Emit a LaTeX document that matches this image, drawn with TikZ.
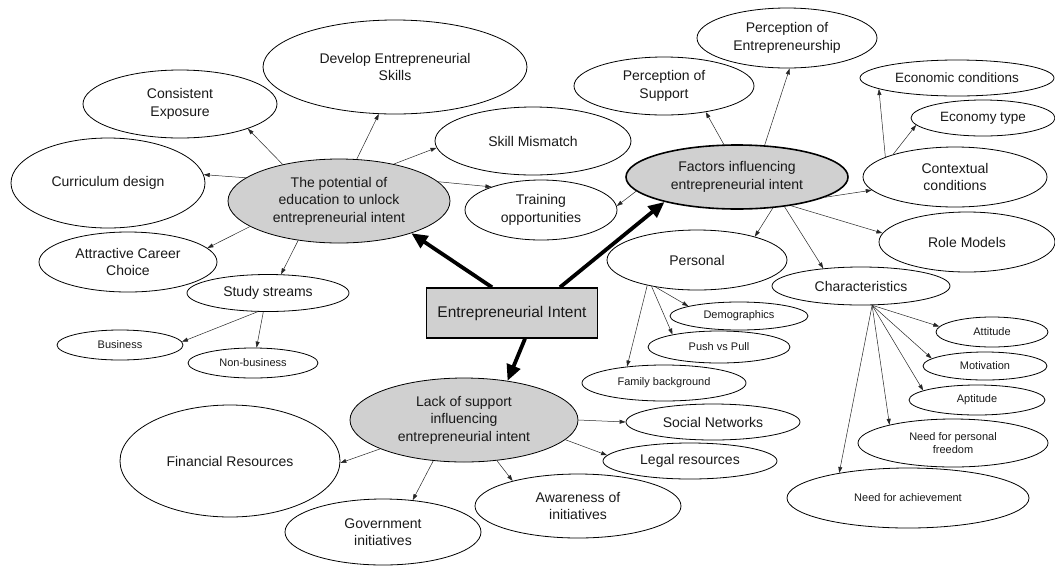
\documentclass[tikz,border=0pt]{standalone}
\usepackage{fontspec}
\setmainfont{Liberation Sans}
\usetikzlibrary{shapes.geometric,arrows.meta}
\definecolor{greyfill}{RGB}{208,208,208}
\tikzset{
  el/.style={ellipse, draw=black, line width=0.8pt, inner sep=0pt, align=center,
    font=\fontsize{14}{17.5}\selectfont, text=black!90},
  gel/.style={el, fill=greyfill},
  sm/.style={font=\fontsize{11}{13}\selectfont},
  md/.style={font=\fontsize{13.5}{15}\selectfont},
  sz/.style 2 args={minimum width=#1pt, minimum height=#2pt},
  arr/.style={-{Triangle[length=6pt,width=4pt]}, line width=0.5pt, draw=black!85},
  bigarr/.style={-{Triangle[length=16pt,width=14pt]}, line width=3.8pt},
}
\begin{document}
\begin{tikzpicture}[x=1pt,y=-1pt]
\useasboundingbox (0,0) rectangle (1055,566);

% education branch
\node[el, sz={264}{94}] (dev) at (395,67) {Develop Entrepreneurial\\Skills};
\node[el, sz={194}{68}] (cons) at (180,104) {Consistent\\Exposure};
\node[el, sz={194}{90}] (curr) at (108,183) {Curriculum design};
\node[gel, sz={222}{84}] (pot) at (339,201) {The potential of\\education to unlock\\entrepreneurial intent};
\node[el, sz={196}{68}] (skill) at (533,141) {Skill Mismatch};
\node[el, sz={152}{60}] (train) at (541,210) {Training\\opportunities};
\node[el, sz={178}{60}] (attr) at (128,262) {Attractive Career\\Choice};
\node[el, sz={162}{37}] (study) at (268,293) {Study streams};
\node[el, sm, sz={126}{30}] (bus) at (120,345) {Business};
\node[el, sm, sz={130}{30}] (nonbus) at (253,363) {Non-business};

% centre
\node[draw=black, line width=1.5pt, fill=greyfill, minimum width=171pt, minimum height=50pt,
  font=\fontsize{15.5}{18}\selectfont, text=black!90] (box) at (512,313) {Entrepreneurial Intent};

% lack of support branch
\node[gel, sz={228}{84}] (lack) at (464,420) {Lack of support\\influencing\\entrepreneurial intent};
\node[el, sz={220}{112}] (fin) at (230,461) {Financial Resources};
\node[el, sz={196}{66}] (gov) at (383,532) {Government\\initiatives};
\node[el, sz={206}{64}] (aware) at (578,506) {Awareness of\\initiatives};
\node[el, sz={174}{36}] (legal) at (690,461) {Legal resources};
\node[el, sz={174}{36}] (social) at (713,422) {Social Networks};

% factors branch
\node[gel, line width=1.6pt, sz={222}{64}] (fact) at (737,177) {Factors influencing\\entrepreneurial intent};
\node[el, sz={180}{58}] (psup) at (664,86) {Perception of\\Support};
\node[el, sz={180}{60}] (pent) at (787,38) {Perception of\\Entrepreneurship};
\node[el, md, sz={194}{36}] (econ) at (957,78) {Economic conditions};
\node[el, md, sz={144}{36}] (ecot) at (983,118) {Economy type};
\node[el, sz={184}{60}] (cont) at (955,177) {Contextual\\conditions};
\node[el, sz={176}{60}] (role) at (967,242) {Role Models};
\node[el, sz={180}{60}] (pers) at (697,260) {Personal};
\node[el, sz={178}{38}] (char) at (861,286) {Characteristics};
\node[el, sm, sz={138}{28}] (demo) at (739,316) {Demographics};
\node[el, sm, sz={142}{32}] (push) at (719,347) {Push vs Pull};
\node[el, sm, sz={164}{36}] (fam) at (664,383) {Family background};
\node[el, sm, sz={112}{30}] (att) at (992,332) {Attitude};
\node[el, sm, sz={124}{28}] (mot) at (985,366) {Motivation};
\node[el, sm, sz={136}{30}] (apt) at (977,400) {Aptitude};
\node[el, sm, sz={190}{48}] (npf) at (953,443) {Need for personal\\freedom};
\node[el, sm, sz={242}{60}] (nach) at (908,498) {Need for achievement};

% thick arrows
\draw[bigarr] ([xshift=-20pt]box.north) -- (pot.336);
\draw[bigarr] ([xshift=48pt]box.north) -- (fact.199);
\draw[bigarr] ([xshift=13pt]box.south) -- (lack.42);

% education connectors
\draw[arr] (pot.147) -- (cons.340);
\draw[arr] (pot.67) -- (dev.251);
\draw[arr] (pot.34) -- (skill.184);
\draw[arr] (pot.11) -- (train.155);
\draw[arr] (pot.166) -- (curr.5);
\draw[arr] (pot.196) -- (attr.10);
\draw[arr] (pot.224) -- (study.55);
\draw[arr] (study.241) -- (bus.3);
\draw[arr] (study.256) -- (nonbus.77);

% factors connectors
\draw[arr] (fact.112) -- (psup.328);
\draw[arr] (fact.49) -- (pent.275);
\draw[arr] (fact.188) -- (train.3);
\draw[arr] (fact.347) -- (cont.189);
\draw[arr] (fact.332) -- (role.174);
\draw[arr] (fact.319) -- (pers.22);
\draw[arr] (fact.328) -- (char.155);
\draw[arr] (cont.164) -- (econ.188);
\draw[arr] (cont.160) -- (ecot.186);
\draw[arr] (pers.213) -- (demo.169);
\draw[arr] (pers.210) -- (push.165);
\draw[arr] (pers.207) -- (fam.156);
\draw[arr] (char.300) -- (att.174);
\draw[arr] (char.300) -- (mot.172);
\draw[arr] (char.300) -- (apt.170);
\draw[arr] (char.300) -- (npf.164);
\draw[arr] (char.300) -- (nach.160);

% lack connectors
\draw[arr] (lack.199) -- (fin.359);
\draw[arr] (lack.233) -- (gov.47);
\draw[arr] (lack.309) -- (aware.159);
\draw[arr] (lack.0) -- (social.180);
\draw[arr] (lack.349) -- (legal.176);
\end{tikzpicture}
\end{document}
